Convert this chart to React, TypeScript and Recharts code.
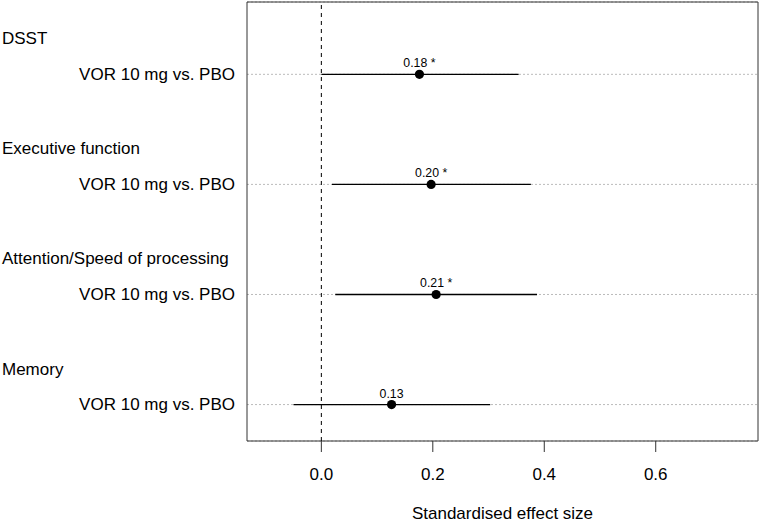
import React from 'react';
import {
  ScatterChart, Scatter, XAxis, YAxis, CartesianGrid, ReferenceLine, ReferenceArea, ErrorBar, Label,
} from 'recharts';

const groups = ['DSST', 'Executive function', 'Attention/Speed of processing', 'Memory'];
const comparisons = ['VOR 10 mg vs. PBO', 'VOR 10 mg vs. PBO', 'VOR 10 mg vs. PBO', 'VOR 10 mg vs. PBO'];
const estimates = [0.176, 0.197, 0.206, 0.126];
const lowers = [0.0, 0.019, 0.025, -0.05];
const uppers = [0.354, 0.376, 0.387, 0.303];
const valueLabels = ['0.18 *', '0.20 *', '0.21 *', '0.13'];
const xTicks = [0, 0.2, 0.4, 0.6];
const rows = [1, 2, 3, 4];

const data = rows.map((r, i) => ({
  x: estimates[i],
  y: r,
  err: [estimates[i] - lowers[i], uppers[i] - estimates[i]],
  label: valueLabels[i],
}));

const FONT = 'Liberation Sans, Arial, sans-serif';

const YTick = (props: any) => {
  const { y, payload } = props;
  const i = rows.indexOf(payload.value);
  if (i < 0) return null;
  return (
    <g>
      <text x={235} y={y} textAnchor="end" dominantBaseline="central" fontSize={17} fontFamily={FONT} fill="#000">
        {comparisons[i]}
      </text>
      <text x={2} y={y - 35.5} textAnchor="start" dominantBaseline="central" fontSize={17} fontFamily={FONT} fill="#000">
        {groups[i]}
      </text>
    </g>
  );
};

const PointShape = (props: any) => {
  const { cx, cy, payload } = props;
  return (
    <g>
      <circle cx={cx} cy={cy} r={4.6} fill="#000" />
      <text x={cx} y={cy - 7} textAnchor="middle" fontSize={12.3} fontFamily={FONT} fill="#000">
        {payload.label}
      </text>
    </g>
  );
};

export default function App() {
  return (
    <div style={{ position: 'absolute', left: 0, top: 0 }}>
      <ScatterChart width={760} height={523} margin={{ top: 2, right: 2, left: 0, bottom: 0 }}>
        <CartesianGrid vertical={false} stroke="#bbbbbb" strokeDasharray="2 2" />
        <XAxis
          type="number"
          dataKey="x"
          domain={[-0.1334, 0.7835]}
          allowDataOverflow
          ticks={xTicks}
          tickFormatter={(v: number) => v.toFixed(1)}
          axisLine={false}
          tickLine={{ stroke: '#333' }}
          tickSize={11}
          tickMargin={16}
          height={82}
          tick={{ fontSize: 17, fontFamily: FONT, fill: '#000' }}
        >
          <Label value="Standardised effect size" position="insideBottom" offset={4} fontSize={17} fontFamily={FONT} fill="#000" />
        </XAxis>
        <YAxis
          type="number"
          dataKey="y"
          domain={[0.343, 4.331]}
          reversed
          allowDataOverflow
          ticks={rows}
          width={247}
          axisLine={false}
          tickLine={false}
          tick={<YTick />}
        />
        <ReferenceArea x1={-0.1334} x2={0.7835} y1={0.343} y2={4.331} fill="none" stroke="#333" strokeWidth={1} ifOverflow="visible" />
        <ReferenceLine x={0} stroke="#000" strokeDasharray="4 4" strokeWidth={1} />
        <Scatter data={data} shape={<PointShape />} isAnimationActive={false}>
          <ErrorBar dataKey="err" direction="x" width={0} stroke="#000" strokeWidth={1.3} />
        </Scatter>
      </ScatterChart>
    </div>
  );
}
